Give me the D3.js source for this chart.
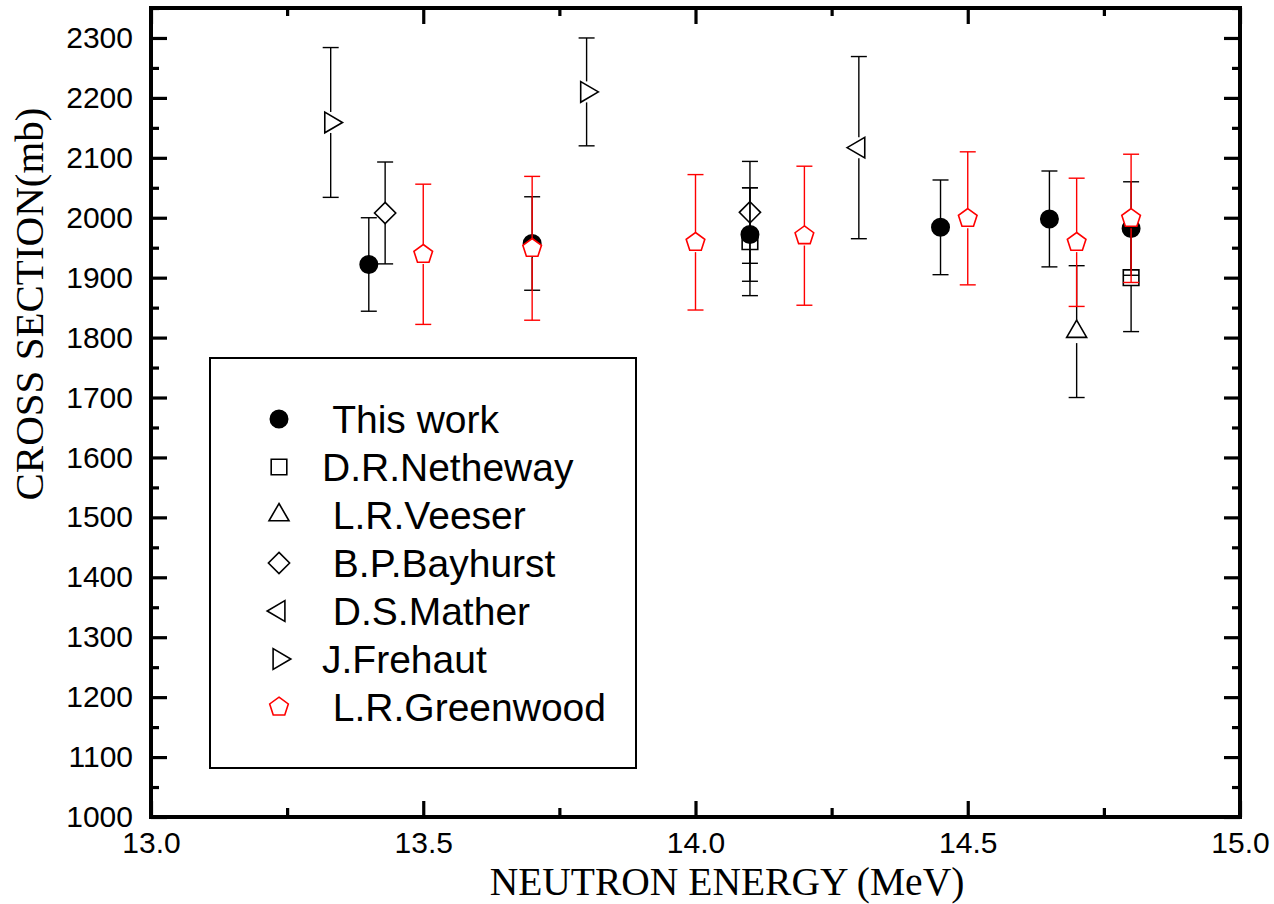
<!DOCTYPE html>
<html>
<head>
<meta charset="utf-8">
<script src="https://cdn.jsdelivr.net/npm/d3@7"></script>
<style>
  html, body { margin: 0; padding: 0; background: #fff; }
  svg { display: block; }
</style>
</head>
<body>
<svg id="chart" width="1274" height="904"></svg>
<script>
// ---------------- data ----------------
const seriesNames = ["This work", "D.R.Netheway", "L.R.Veeser", "B.P.Bayhurst", "D.S.Mather", "J.Frehaut", "L.R.Greenwood"];
const legendLabels = [" This work", "D.R.Netheway", " L.R.Veeser", " B.P.Bayhurst", " D.S.Mather", "J.Frehaut", " L.R.Greenwood"];

const thisWorkE   = [13.40, 13.70, 14.10, 14.45, 14.65, 14.80];
const thisWorkV   = [1922, 1957, 1972, 1984, 1998, 1982];
const thisWorkErr = [78, 78, 78, 79, 80, 78];

const nethewayE   = [14.10, 14.80];
const nethewayV   = [1960, 1900];
const nethewayErr = [90, 90];

const veeserE   = [14.70];
const veeserV   = [1810];
const veeserErr = [110];

const bayhurstE   = [13.43, 14.10];
const bayhurstV   = [2008, 2009];
const bayhurstErr = [85, 85];

const matherE   = [14.30];
const matherV   = [2117];
const matherErr = [152];

const frehautE   = [13.33, 13.80];
const frehautV   = [2159, 2210];
const frehautErr = [125, 90];

const greenwoodE   = [13.50, 13.70, 14.00, 14.20, 14.50, 14.70, 14.80];
const greenwoodV   = [1939, 1949, 1959, 1970, 1999, 1959, 1999];
const greenwoodErr = [117, 120, 113, 116, 111, 107, 107];

const xTickValues = [13.0, 13.5, 14.0, 14.5, 15.0];
const yTickValues = [1000, 1100, 1200, 1300, 1400, 1500, 1600, 1700, 1800, 1900, 2000, 2100, 2200, 2300];

const xTitle = "NEUTRON ENERGY (MeV)";
const yTitle = "CROSS SECTION(mb)";

// ---------------- styling ----------------
const series = [
  { name: seriesNames[0], label: legendLabels[0], E: thisWorkE,  V: thisWorkV,  err: thisWorkErr,  sym: "circle",   color: "#000", fill: "#000", gap: 0 },
  { name: seriesNames[1], label: legendLabels[1], E: nethewayE,  V: nethewayV,  err: nethewayErr,  sym: "square",   color: "#000", fill: "none", gap: 8 },
  { name: seriesNames[2], label: legendLabels[2], E: veeserE,    V: veeserV,    err: veeserErr,    sym: "triUp",    color: "#000", fill: "none", gap: 11.5 },
  { name: seriesNames[3], label: legendLabels[3], E: bayhurstE,  V: bayhurstV,  err: bayhurstErr,  sym: "diamond",  color: "#000", fill: "none", gap: 10.5 },
  { name: seriesNames[4], label: legendLabels[4], E: matherE,    V: matherV,    err: matherErr,    sym: "triLeft",  color: "#000", fill: "none", gap: 10.5 },
  { name: seriesNames[5], label: legendLabels[5], E: frehautE,   V: frehautV,   err: frehautErr,   sym: "triRight", color: "#000", fill: "none", gap: 10.5 },
  { name: seriesNames[6], label: legendLabels[6], E: greenwoodE, V: greenwoodV, err: greenwoodErr, sym: "pentagon", color: "#ff0000", fill: "#fff", gap: 9.8 }
];

function symbolPath(type) {
  const p = d3.path();
  if (type === "circle") {
    p.arc(0, 0, 8.7, 0, 2 * Math.PI);
  } else if (type === "square") {
    const h = 7.8; p.rect(-h, -h, 2 * h, 2 * h);
  } else if (type === "triUp") {
    const w = 10, hTop = 11.5, hBot = 5.8;
    p.moveTo(0, -hTop); p.lineTo(w, hBot); p.lineTo(-w, hBot); p.closePath();
  } else if (type === "triRight") {
    const hh = 10.35, l = 5.9, r = 11.8;
    p.moveTo(r, 0); p.lineTo(-l, hh); p.lineTo(-l, -hh); p.closePath();
  } else if (type === "triLeft") {
    const hh = 10.35, l = 5.9, r = 11.8;
    p.moveTo(-r, 0); p.lineTo(l, hh); p.lineTo(l, -hh); p.closePath();
  } else if (type === "diamond") {
    const d = 10.6;
    p.moveTo(0, -d); p.lineTo(d, 0); p.lineTo(0, d); p.lineTo(-d, 0); p.closePath();
  } else if (type === "pentagon") {
    const R = 9.8;
    for (let i = 0; i < 5; i++) {
      const a = -Math.PI / 2 + i * 2 * Math.PI / 5;
      const px = R * Math.cos(a), py = R * Math.sin(a);
      if (i === 0) p.moveTo(px, py); else p.lineTo(px, py);
    }
    p.closePath();
  }
  return p.toString();
}

// ---------------- layout ----------------
const W = 1274, H = 904;
const mLeft = 151, mRight = 1240, mTop = 8, mBottom = 817;

const svg = d3.select("#chart");
svg.append("rect").attr("width", W).attr("height", H).attr("fill", "#fff");

const x = d3.scaleLinear().domain([13, 15]).range([mLeft, mRight]);
const y = d3.scaleLinear().domain([1000, 2350]).range([mBottom, mTop]);

const xMinor = xTickValues.slice(0, -1).map((v, i) => (v + xTickValues[i + 1]) / 2);
const yMinor = yTickValues.map(v => v + 50);

const tickFont = "'Liberation Sans', Arial, sans-serif";
const titleFont = "'Liberation Serif', 'Times New Roman', serif";

// ---------------- data marks ----------------
const capHalf = 8;
const dataG = svg.append("g");
series.forEach(s => {
  const pts = s.E.map((e, i) => ({ e, v: s.V[i], err: s.err[i] }));
  const sg = dataG.append("g");
  const eb = sg.selectAll("g.eb").data(pts).join("g").attr("class", "eb")
    .attr("stroke", s.color).attr("stroke-width", 1.4).attr("fill", "none");
  eb.append("line")
    .attr("x1", d => x(d.e)).attr("x2", d => x(d.e))
    .attr("y1", d => y(d.v + d.err)).attr("y2", d => y(d.v) - s.gap);
  eb.append("line")
    .attr("x1", d => x(d.e)).attr("x2", d => x(d.e))
    .attr("y1", d => y(d.v) + s.gap).attr("y2", d => y(d.v - d.err));
  eb.append("line")
    .attr("x1", d => x(d.e) - capHalf).attr("x2", d => x(d.e) + capHalf)
    .attr("y1", d => y(d.v + d.err)).attr("y2", d => y(d.v + d.err));
  eb.append("line")
    .attr("x1", d => x(d.e) - capHalf).attr("x2", d => x(d.e) + capHalf)
    .attr("y1", d => y(d.v - d.err)).attr("y2", d => y(d.v - d.err));
  sg.selectAll("path.sym").data(pts).join("path").attr("class", "sym")
    .attr("transform", d => `translate(${x(d.e)},${y(d.v)})`)
    .attr("d", symbolPath(s.sym))
    .attr("fill", s.fill)
    .attr("stroke", s.color)
    .attr("stroke-width", 1.6);
});

// ---------------- legend ----------------
const lg = svg.append("g");
lg.append("rect")
  .attr("x", 210).attr("y", 358).attr("width", 426).attr("height", 410)
  .attr("fill", "#fff").attr("stroke", "#000").attr("stroke-width", 2);
const rows = lg.selectAll("g.row").data(series).join("g").attr("class", "row")
  .attr("transform", (d, i) => `translate(0,${419 + i * 48})`);
rows.append("path")
  .attr("transform", "translate(279,0)")
  .attr("d", d => symbolPath(d.sym))
  .attr("fill", d => d.fill)
  .attr("stroke", d => d.color)
  .attr("stroke-width", 1.6);
rows.append("text")
  .attr("x", 322).attr("y", 13.5)
  .style("white-space", "pre")
  .style("font-family", tickFont).style("font-size", "39px")
  .attr("fill", "#000")
  .text(d => d.label);

// ---------------- axes (drawn on top) ----------------
function drawAxis(axisGen, tx, ty, showText) {
  const g = svg.append("g").attr("transform", `translate(${tx},${ty})`);
  g.call(axisGen);
  g.select("path.domain").remove();
  g.selectAll(".tick line")
    .attr("stroke", "#000").attr("stroke-width", 3.2)
    .style("stroke", "#000").style("stroke-width", "3.2px");
  if (showText) {
    g.selectAll(".tick text")
      .attr("fill", "#000")
      .style("font-family", tickFont)
      .style("font-size", "30px");
  } else {
    g.selectAll(".tick text").remove();
  }
  return g;
}

// bottom
drawAxis(d3.axisBottom(x).tickValues(xTickValues).tickSize(-16).tickPadding(15).tickFormat(d3.format(".1f")), 0, mBottom, true);
drawAxis(d3.axisBottom(x).tickValues(xMinor).tickSize(-9), 0, mBottom, false);
// top
drawAxis(d3.axisTop(x).tickValues(xTickValues).tickSize(-16), 0, mTop, false);
drawAxis(d3.axisTop(x).tickValues(xMinor).tickSize(-8), 0, mTop, false);
// left
drawAxis(d3.axisLeft(y).tickValues(yTickValues).tickSize(-16).tickPadding(18).tickFormat(d3.format("d")), mLeft, 0, true);
drawAxis(d3.axisLeft(y).tickValues(yMinor).tickSize(-8), mLeft, 0, false);
// right
drawAxis(d3.axisRight(y).tickValues(yTickValues).tickSize(-16), mRight, 0, false);
drawAxis(d3.axisRight(y).tickValues(yMinor).tickSize(-8), mRight, 0, false);

// frame
svg.append("rect")
  .attr("x", mLeft).attr("y", mTop)
  .attr("width", mRight - mLeft).attr("height", mBottom - mTop)
  .attr("fill", "none").attr("stroke", "#000").attr("stroke-width", 4)
  .style("fill", "none").style("stroke-width", "4px");

// axis titles
svg.append("text")
  .attr("x", 727).attr("y", 895)
  .attr("text-anchor", "middle")
  .style("font-family", titleFont).style("font-size", "39.5px")
  .attr("fill", "#000")
  .text(xTitle);
svg.append("text")
  .attr("transform", "translate(43,304) rotate(-90)")
  .attr("text-anchor", "middle")
  .style("font-family", titleFont).style("font-size", "41px")
  .attr("fill", "#000")
  .text(yTitle);
</script>
</body>
</html>
